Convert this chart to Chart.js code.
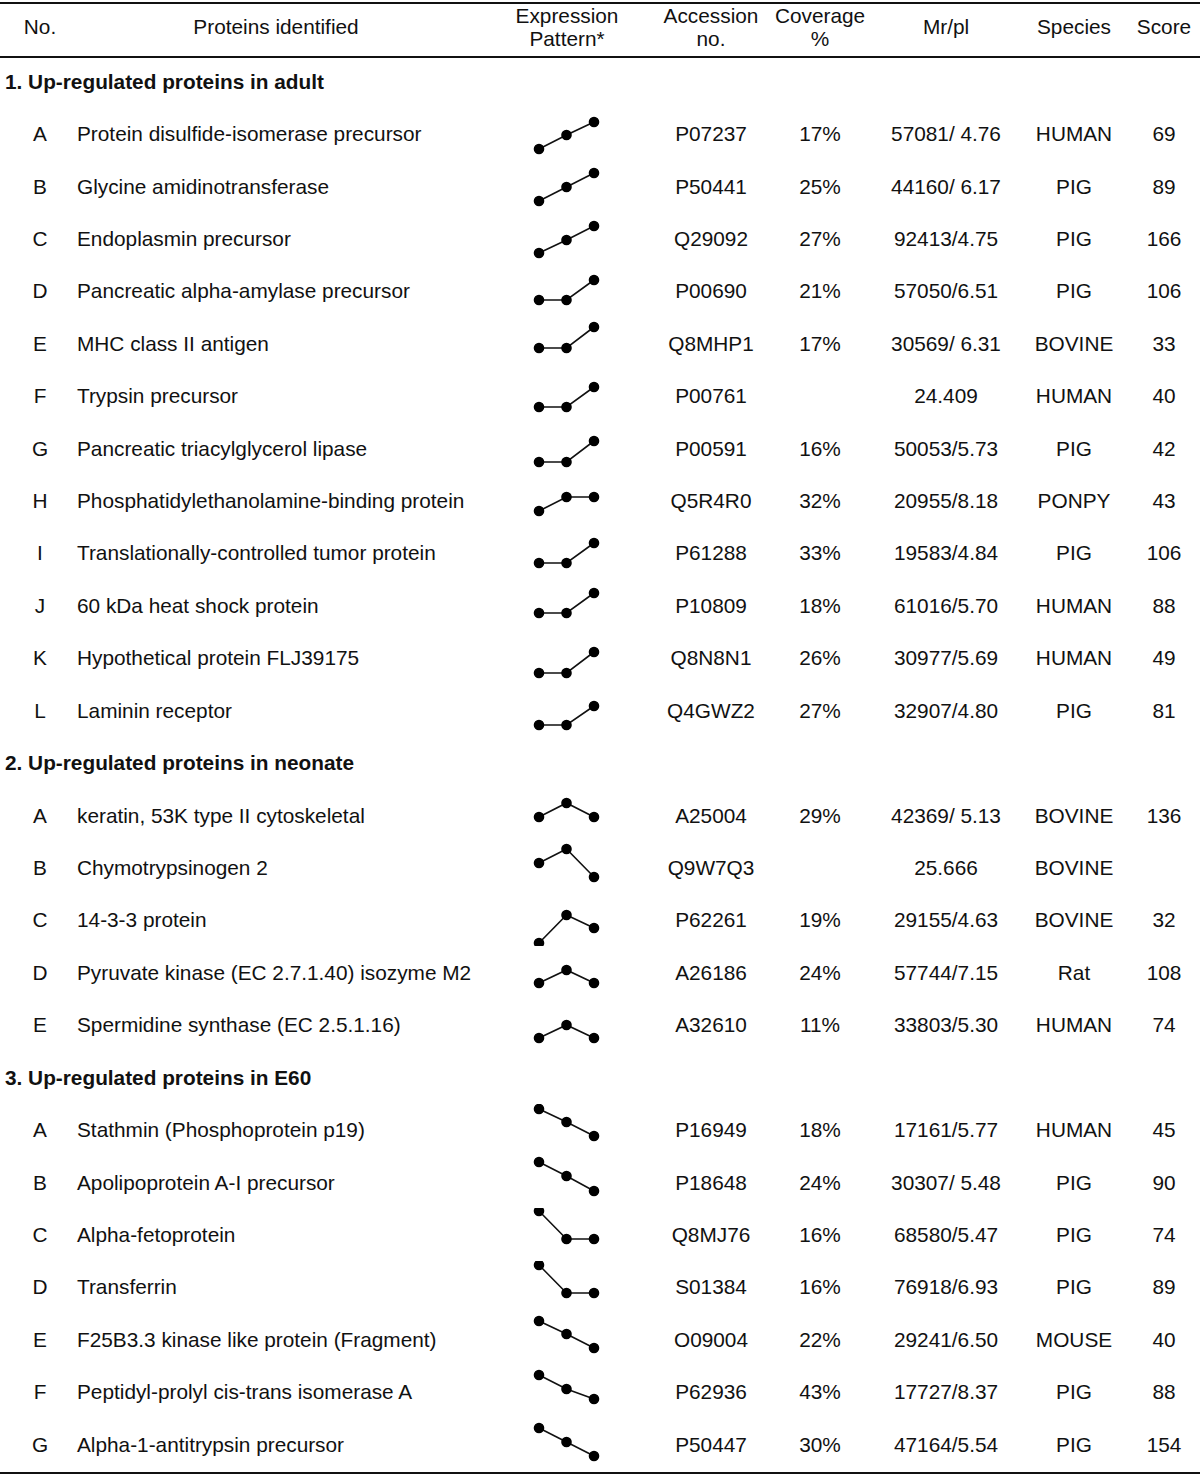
<!DOCTYPE html>
<html>
<head>
<meta charset="utf-8">
<script src="https://cdn.jsdelivr.net/npm/chart.js@4.4.1/dist/chart.umd.min.js"></script>
<style>
  html, body { margin: 0; padding: 0; background: #fff; }
  body { width: 1200px; height: 1477px; position: relative; overflow: hidden;
         font-family: "Liberation Sans", Arial, sans-serif; font-size: 20.8px; color: #111; }
  .rule { position: absolute; left: 0; width: 1200px; background: #111; }
  .t { position: absolute; white-space: nowrap; line-height: 23px; }
  .c { transform: translateX(-50%); text-align: center; }
  .sec { font-weight: bold; }
  canvas.spark { position: absolute; }
</style>
</head>
<body>
<div id="table"></div>
<script>
// ---------- data ----------
const stages = ["E60", "neonate", "adult"];

const sections = [
  "1. Up-regulated proteins in adult",
  "2. Up-regulated proteins in neonate",
  "3. Up-regulated proteins in E60"
];

// which section each protein row belongs to
const rowSection = [0,0,0,0,0,0,0,0,0,0,0,0, 1,1,1,1,1, 2,2,2,2,2,2,2];

const letters = ["A","B","C","D","E","F","G","H","I","J","K","L",
                 "A","B","C","D","E",
                 "A","B","C","D","E","F","G"];

const proteins = [
  "Protein disulfide-isomerase precursor",
  "Glycine amidinotransferase",
  "Endoplasmin precursor",
  "Pancreatic alpha-amylase precursor",
  "MHC class II antigen",
  "Trypsin precursor",
  "Pancreatic triacylglycerol lipase",
  "Phosphatidylethanolamine-binding protein",
  "Translationally-controlled tumor protein",
  "60 kDa heat shock protein",
  "Hypothetical protein FLJ39175",
  "Laminin receptor",
  "keratin, 53K type II cytoskeletal",
  "Chymotrypsinogen 2",
  "14-3-3 protein",
  "Pyruvate kinase (EC 2.7.1.40) isozyme M2",
  "Spermidine synthase (EC 2.5.1.16)",
  "Stathmin (Phosphoprotein p19)",
  "Apolipoprotein A-I precursor",
  "Alpha-fetoprotein",
  "Transferrin",
  "F25B3.3 kinase like protein (Fragment)",
  "Peptidyl-prolyl cis-trans isomerase A",
  "Alpha-1-antitrypsin precursor"
];

const accession = ["P07237","P50441","Q29092","P00690","Q8MHP1","P00761","P00591","Q5R4R0",
                   "P61288","P10809","Q8N8N1","Q4GWZ2",
                   "A25004","Q9W7Q3","P62261","A26186","A32610",
                   "P16949","P18648","Q8MJ76","S01384","O09004","P62936","P50447"];

const coverage = ["17%","25%","27%","21%","17%","","16%","32%","33%","18%","26%","27%",
                  "29%","","19%","24%","11%",
                  "18%","24%","16%","16%","22%","43%","30%"];

const mrpi = ["57081/ 4.76","44160/ 6.17","92413/4.75","57050/6.51","30569/ 6.31","24.409",
              "50053/5.73","20955/8.18","19583/4.84","61016/5.70","30977/5.69","32907/4.80",
              "42369/ 5.13","25.666","29155/4.63","57744/7.15","33803/5.30",
              "17161/5.77","30307/ 5.48","68580/5.47","76918/6.93","29241/6.50","17727/8.37","47164/5.54"];

const species = ["HUMAN","PIG","PIG","PIG","BOVINE","HUMAN","PIG","PONPY","PIG","HUMAN","HUMAN","PIG",
                 "BOVINE","BOVINE","BOVINE","Rat","HUMAN",
                 "HUMAN","PIG","PIG","PIG","MOUSE","PIG","PIG"];

const score = ["69","89","166","106","33","40","42","43","106","88","49","81",
               "136","","32","108","74",
               "45","90","74","89","40","88","154"];

// relative expression level at E60 / neonate / adult (read from the sparklines)
const patterns = [
  [-15, -1, 12], [-15, -1, 13], [-15, -2, 12], [-9, -9, 11], [-5, -5, 16], [-11, -11, 9],
  [-14, -14, 7], [-10, 4, 4], [-10, -10, 10], [-8, -8, 12], [-15, -15, 6], [-15, -15, 4],
  [-2, 12, -2], [5, 19, -9], [-23, 5, -8], [-11, 2, -11], [-13, 0, -13],
  [21, 8, -6], [20, 6, -9], [23, -5, -5], [22, -6, -6], [18, 5, -9], [17, 3, -7], [16, 2, -12]
];

// ---------- layout ----------
const bodyTop = 56, rowH = 52.42;
const cols = { no: 40, name: 77, acc: 711, cov: 820, mr: 946, sp: 1074, sc: 1164 };
const table = document.getElementById("table");

function rule(y, h) {
  const d = document.createElement("div");
  d.className = "rule";
  d.style.top = y + "px"; d.style.height = h + "px";
  table.appendChild(d);
}
function text(str, x, y, center, cls) {
  const d = document.createElement("div");
  d.className = "t" + (center ? " c" : "") + (cls ? " " + cls : "");
  d.style.left = x + "px"; d.style.top = (y - 12.5) + "px";
  d.textContent = str;
  table.appendChild(d);
}

rule(2, 2);
rule(56, 2);
rule(1472, 2);

// header
text("No.", cols.no, 27, true);
text("Proteins identified", 276, 27, true);
text("Expression", 567, 16, true); text("Pattern*", 567, 39, true);
text("Accession", cols.acc, 16, true); text("no.", cols.acc, 39, true);
text("Coverage", cols.cov, 16, true); text("%", cols.cov, 39, true);
text("Mr/pl", cols.mr, 27, true);
text("Species", cols.sp, 27, true);
text("Score", cols.sc, 27, true);

// body
let r = 0, lastSec = -1;
proteins.forEach((name, i) => {
  if (rowSection[i] !== lastSec) {
    lastSec = rowSection[i];
    text(sections[lastSec], 5, bodyTop + rowH * (r + 0.5), false, "sec");
    r++;
  }
  const yc = bodyTop + rowH * (r + 0.5);
  text(letters[i], cols.no, yc, true);
  text(name, cols.name, yc, false);
  text(accession[i], cols.acc, yc, true);
  if (coverage[i]) text(coverage[i], cols.cov, yc, true);
  text(mrpi[i], cols.mr, yc, true);
  text(species[i], cols.sp, yc, true);
  if (score[i]) text(score[i], cols.sc, yc, true);

  const cv = document.createElement("canvas");
  cv.className = "spark";
  cv.width = 75; cv.height = 52;
  cv.style.width = "75px"; cv.style.height = "52px";
  cv.style.left = "529px"; cv.style.top = (yc - 27) + "px";
  table.appendChild(cv);
  new Chart(cv, {
    type: "line",
    data: {
      labels: stages,
      datasets: [{ data: patterns[i], borderColor: "#111", borderWidth: 1.6,
                   pointBackgroundColor: "#000", pointBorderColor: "#000",
                   pointRadius: 4.5, tension: 0, clip: false }]
    },
    options: {
      responsive: false, animation: false, events: [],
      layout: { autoPadding: false, padding: { left: 10, right: 10, top: 0, bottom: 0 } },
      plugins: { legend: { display: false }, tooltip: { enabled: false } },
      scales: {
        x: { display: false, offset: false },
        y: { display: false, min: -26, max: 26 }
      }
    }
  });
  r++;
});
</script>
</body>
</html>
